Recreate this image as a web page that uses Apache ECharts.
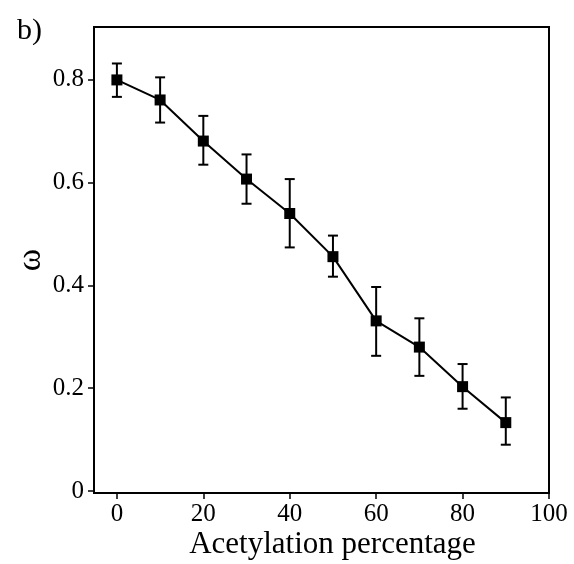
<!DOCTYPE html>
<html>
<head>
<meta charset="utf-8">
<script src="https://cdn.jsdelivr.net/npm/echarts@6/dist/echarts.min.js"></script>
<style>html,body{margin:0;padding:0;background:#fff;}#c{width:574px;height:564px;}</style>
</head>
<body>
<div id="c"></div>
<script>
const xValues = [0, 10, 20, 30, 40, 50, 60, 70, 80, 90];
const omegaMean = [0.800, 0.761, 0.681, 0.607, 0.540, 0.456, 0.331, 0.280, 0.203, 0.133];
const omegaLow  = [0.767, 0.717, 0.635, 0.559, 0.474, 0.417, 0.263, 0.224, 0.160, 0.090];
const omegaHigh = [0.832, 0.805, 0.730, 0.655, 0.607, 0.497, 0.397, 0.336, 0.247, 0.182];
const xTicks = [0, 20, 40, 60, 80, 100];
const yTicks = [0, 0.2, 0.4, 0.6, 0.8];

const FONT = '"Liberation Serif", "Times New Roman", serif';
const chart = echarts.init(document.getElementById('c'), null, {renderer: 'canvas'});

const lineData = xValues.map((x, i) => [x, omegaMean[i]]);
const errData = xValues.map((x, i) => [x, omegaLow[i], omegaHigh[i]]);

chart.setOption({
  animation: false,
  backgroundColor: '#fff',
  title: {
    text: 'b)', left: 12, top: 11,
    textStyle: {fontFamily: FONT, fontSize: 30, fontWeight: 'normal', color: '#000'}
  },
  grid: {
    left: 94, right: 25, top: 27, bottom: 71,
    outerBoundsMode: 'none', containLabel: false,
    show: true, borderColor: '#000', borderWidth: 2, backgroundColor: 'transparent'
  },
  xAxis: {
    type: 'value', min: -5.3, max: 100,
    name: 'Acetylation percentage', nameLocation: 'middle', nameGap: 36,
    nameMoveOverlap: false,
    nameTextStyle: {fontFamily: FONT, fontSize: 31, color: '#000', padding: [0, 0, 0, 22]},
    axisLine: {show: true, onZero: false, lineStyle: {color: '#000', width: 2}},
    axisTick: {show: true, length: 6, lineStyle: {color: '#000', width: 1.5}, customValues: xTicks},
    axisLabel: {fontFamily: FONT, fontSize: 25, color: '#000', margin: 9, customValues: xTicks},
    splitLine: {show: false}
  },
  yAxis: {
    type: 'value', min: -0.004, max: 0.903,
    name: 'ω', nameLocation: 'middle', nameGap: 46, nameRotate: 90,
    nameMoveOverlap: false,
    nameTextStyle: {fontFamily: FONT, fontSize: 34, color: '#000'},
    axisLine: {show: true, onZero: false, lineStyle: {color: '#000', width: 2}},
    axisTick: {show: true, length: 6, lineStyle: {color: '#000', width: 1.5}, customValues: yTicks},
    axisLabel: {fontFamily: FONT, fontSize: 25, color: '#000', margin: 10, customValues: yTicks,
      formatter: v => (Math.abs(v) < 1e-9 ? '0' : v.toFixed(1))},
    splitLine: {show: false}
  },
  series: [
    {
      type: 'custom',
      data: errData,
      z: 3,
      renderItem: function (params, api) {
        const x = api.value(0);
        const lo = api.coord([x, api.value(1)]);
        const hi = api.coord([x, api.value(2)]);
        const hw = 5;
        const style = {stroke: '#000', lineWidth: 2};
        return {
          type: 'group',
          children: [
            {type: 'line', shape: {x1: lo[0], y1: lo[1], x2: hi[0], y2: hi[1]}, style},
            {type: 'line', shape: {x1: lo[0] - hw, y1: lo[1], x2: lo[0] + hw, y2: lo[1]}, style},
            {type: 'line', shape: {x1: hi[0] - hw, y1: hi[1], x2: hi[0] + hw, y2: hi[1]}, style}
          ]
        };
      }
    },
    {
      type: 'line',
      data: lineData,
      z: 4,
      symbol: 'rect',
      symbolSize: 11,
      itemStyle: {color: '#000'},
      lineStyle: {color: '#000', width: 2}
    }
  ]
});
</script>
</body>
</html>
